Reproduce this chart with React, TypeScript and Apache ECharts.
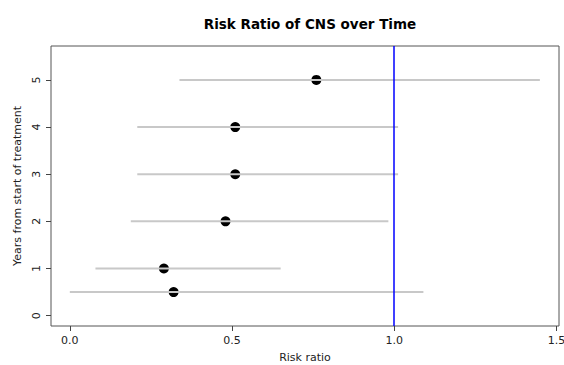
import React, { useEffect, useRef } from "react";
import * as echarts from "echarts";

const years = [5, 4, 3, 2, 1, 0.5];
const estimates = [0.76, 0.51, 0.51, 0.48, 0.29, 0.32];
const lower = [0.338, 0.208, 0.208, 0.188, 0.079, 0.0];
const upper = [1.449, 1.012, 1.012, 0.982, 0.65, 1.09];
const xTicks = [0, 0.5, 1, 1.5];
const yTicks = [0, 1, 2, 3, 4, 5];
const refLine = 1.0;

const FONT = "DejaVu Sans";

export default function App() {
  const ref = useRef<HTMLDivElement>(null);
  useEffect(() => {
    if (!ref.current) return;
    document.body.style.margin = "0";
    const chart = echarts.init(ref.current, undefined, { renderer: "svg" });
    const barData = years.map((y, i) => [lower[i], upper[i], y]);
    const ptData = years.map((y, i) => [estimates[i], y]);
    chart.setOption({
      animation: false,
      backgroundColor: "#ffffff",
      textStyle: { fontFamily: FONT },
      title: {
        text: "Risk Ratio of CNS over Time",
        left: 305,
        textAlign: "center",
        top: 12,
        textStyle: { fontFamily: FONT, fontSize: 13.5, fontWeight: "bold", color: "#000" },
      },
      grid: {
        left: 51,
        right: 5,
        top: 46,
        bottom: 39,
        containLabel: false,
        outerBoundsMode: "none",
        show: true,
        borderColor: "#555",
        borderWidth: 1,
        backgroundColor: "transparent",
      },
      xAxis: {
        type: "value",
        min: -0.058,
        max: 1.508,
        name: "Risk ratio",
        nameLocation: "middle",
        nameGap: 26,
        nameTextStyle: { fontFamily: FONT, fontSize: 11, color: "#222" },
        axisLine: { show: false, onZero: false },
        splitLine: { show: false },
        axisTick: {
          show: true,
          customValues: xTicks,
          length: 5,
          lineStyle: { color: "#444" },
        },
        axisLabel: {
          customValues: xTicks,
          formatter: (v: number) => v.toFixed(1),
          margin: 9,
          hideOverlap: false,
          fontFamily: FONT,
          fontSize: 11,
          color: "#222",
        },
      },
      yAxis: {
        type: "value",
        min: -0.22,
        max: 5.72,
        name: "Years from start of treatment",
        nameLocation: "middle",
        nameGap: 28,
        nameRotate: 90,
        nameTextStyle: { fontFamily: FONT, fontSize: 11, color: "#222" },
        axisLine: { show: false, onZero: false },
        splitLine: { show: false },
        axisTick: {
          show: true,
          customValues: yTicks,
          length: 5,
          lineStyle: { color: "#444" },
        },
        axisLabel: {
          customValues: yTicks,
          rotate: 90,
          margin: 9,
          fontFamily: FONT,
          fontSize: 11,
          color: "#222",
        },
      },
      series: [
        {
          type: "scatter",
          data: ptData,
          symbol: "circle",
          symbolSize: 10,
          itemStyle: { color: "#000", opacity: 1 },
          z: 2,
          silent: true,
        },
        {
          type: "custom",
          data: barData,
          encode: { x: [0, 1], y: 2 },
          z: 3,
          silent: true,
          renderItem: (params: any, api: any) => {
            const y = api.value(2);
            const p1 = api.coord([api.value(0), y]);
            const p2 = api.coord([api.value(1), y]);
            return {
              type: "line",
              shape: { x1: p1[0], y1: p1[1], x2: p2[0], y2: p2[1] },
              style: { stroke: "#c8c8c8", lineWidth: 2 },
            };
          },
        },
        {
          type: "scatter",
          data: [],
          z: 5,
          markLine: {
            silent: true,
            symbol: ["none", "none"],
            label: { show: false },
            lineStyle: { color: "#0000ff", width: 1.5, type: "solid" },
            data: [{ xAxis: refLine }],
          },
        },
      ],
    });
    return () => chart.dispose();
  }, []);
  return <div ref={ref} style={{ width: 564, height: 365 }} />;
}
